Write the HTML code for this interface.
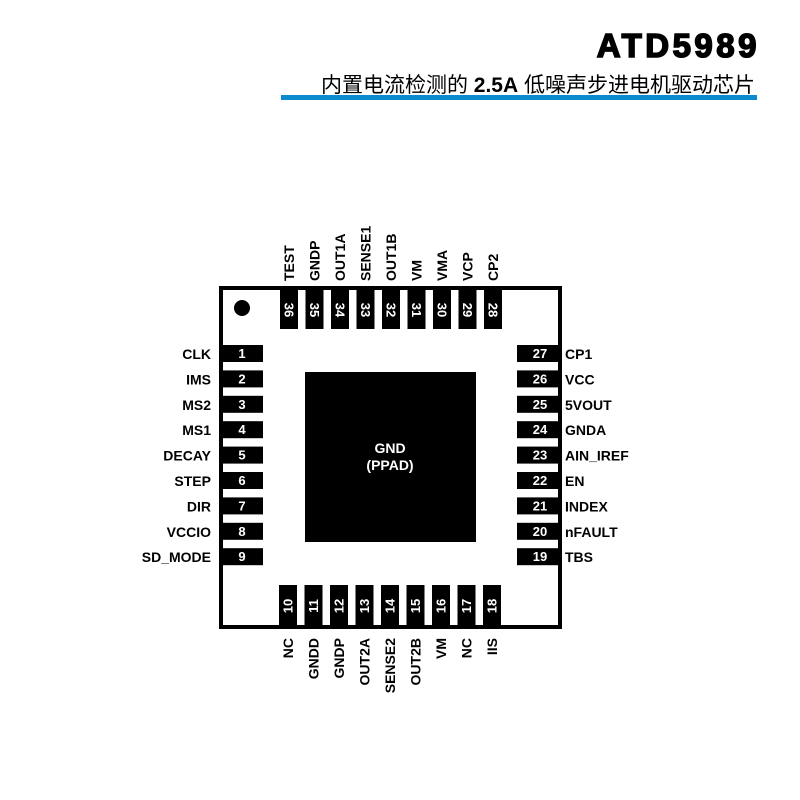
<!DOCTYPE html>
<html><head><meta charset="utf-8"><style>
html,body{margin:0;padding:0;background:#fff;}
svg{display:block;}
text{font-family:"Liberation Sans","Noto Sans CJK SC",sans-serif;font-weight:bold;}
</style></head><body>
<svg width="800" height="800" viewBox="0 0 800 800" xmlns="http://www.w3.org/2000/svg">
<text x="760" y="57" text-anchor="end" font-size="33" style="font-weight:900;letter-spacing:3.5px" stroke="#000" stroke-width="1.6">ATD5989</text>
<text x="755" y="92" text-anchor="end" font-size="21" style="font-weight:normal">内置电流检测的 <tspan style="font-weight:bold">2.5A</tspan> 低噪声步进电机驱动芯片</text>
<rect x="281" y="95" width="476" height="5" fill="#0b8acd"/>
<rect x="221" y="288" width="339" height="339" fill="none" stroke="#000" stroke-width="4"/>
<circle cx="242" cy="308" r="8" fill="#000"/>
<rect x="305" y="372" width="171" height="170" fill="#000"/>
<text x="390" y="453" text-anchor="middle" font-size="14" fill="#fff">GND</text>
<text x="390" y="470" text-anchor="middle" font-size="14" fill="#fff">(PPAD)</text>
<g font-size="13">
<g fill="#000">
<rect x="219" y="345" width="44" height="17"/>
<rect x="219" y="370.4" width="44" height="17"/>
<rect x="219" y="395.8" width="44" height="17"/>
<rect x="219" y="421.2" width="44" height="17"/>
<rect x="219" y="446.6" width="44" height="17"/>
<rect x="219" y="472" width="44" height="17"/>
<rect x="219" y="497.4" width="44" height="17"/>
<rect x="219" y="522.8" width="44" height="17"/>
<rect x="219" y="548.2" width="44" height="17"/>
<rect x="517" y="345" width="44" height="17"/>
<rect x="517" y="370.4" width="44" height="17"/>
<rect x="517" y="395.8" width="44" height="17"/>
<rect x="517" y="421.2" width="44" height="17"/>
<rect x="517" y="446.6" width="44" height="17"/>
<rect x="517" y="472" width="44" height="17"/>
<rect x="517" y="497.4" width="44" height="17"/>
<rect x="517" y="522.8" width="44" height="17"/>
<rect x="517" y="548.2" width="44" height="17"/>
</g>
<g fill="#fff" text-anchor="middle">
<text x="242" y="358">1</text><text x="242" y="383.4">2</text><text x="242" y="408.8">3</text><text x="242" y="434.2">4</text><text x="242" y="459.6">5</text><text x="242" y="485">6</text><text x="242" y="510.4">7</text><text x="242" y="535.8">8</text><text x="242" y="561.2">9</text>
<text x="540" y="358">27</text><text x="540" y="383.4">26</text><text x="540" y="408.8">25</text><text x="540" y="434.2">24</text><text x="540" y="459.6">23</text><text x="540" y="485">22</text><text x="540" y="510.4">21</text><text x="540" y="535.8">20</text><text x="540" y="561.2">19</text>
</g>
</g>
<g font-size="14" fill="#000" text-anchor="end">
<text x="211" y="359">CLK</text><text x="211" y="384.4">IMS</text><text x="211" y="409.8">MS2</text><text x="211" y="435.2">MS1</text><text x="211" y="460.6">DECAY</text><text x="211" y="486">STEP</text><text x="211" y="511.4">DIR</text><text x="211" y="536.8">VCCIO</text><text x="211" y="562.2">SD_MODE</text>
</g>
<g font-size="14" fill="#000">
<text x="565" y="359">CP1</text><text x="565" y="384.4">VCC</text><text x="565" y="409.8">5VOUT</text><text x="565" y="435.2">GNDA</text><text x="565" y="460.6">AIN_IREF</text><text x="565" y="486">EN</text><text x="565" y="511.4">INDEX</text><text x="565" y="536.8">nFAULT</text><text x="565" y="562.2">TBS</text>
</g>
<g font-size="13">
<rect x="280" y="286" width="18" height="43"/><rect x="305.5" y="286" width="18" height="43"/><rect x="331" y="286" width="18" height="43"/><rect x="356.5" y="286" width="18" height="43"/><rect x="382" y="286" width="18" height="43"/><rect x="407.5" y="286" width="18" height="43"/><rect x="433" y="286" width="18" height="43"/><rect x="458.5" y="286" width="18" height="43"/><rect x="484" y="286" width="18" height="43"/>
<g fill="#fff" text-anchor="middle">
<text transform="translate(284.5,310) rotate(90)">36</text>
<text transform="translate(310,310) rotate(90)">35</text>
<text transform="translate(335.5,310) rotate(90)">34</text>
<text transform="translate(361,310) rotate(90)">33</text>
<text transform="translate(386.5,310) rotate(90)">32</text>
<text transform="translate(412,310) rotate(90)">31</text>
<text transform="translate(437.5,310) rotate(90)">30</text>
<text transform="translate(463,310) rotate(90)">29</text>
<text transform="translate(488.5,310) rotate(90)">28</text>
</g>
<g fill="#000" font-size="14">
<text transform="translate(294,281) rotate(-90)">TEST</text>
<text transform="translate(319.5,281) rotate(-90)">GNDP</text>
<text transform="translate(345,281) rotate(-90)">OUT1A</text>
<text transform="translate(370.5,281) rotate(-90)">SENSE1</text>
<text transform="translate(396,281) rotate(-90)">OUT1B</text>
<text transform="translate(421.5,281) rotate(-90)">VM</text>
<text transform="translate(447,281) rotate(-90)">VMA</text>
<text transform="translate(472.5,281) rotate(-90)">VCP</text>
<text transform="translate(498,281) rotate(-90)">CP2</text>
</g>
</g>
<g font-size="13">
<rect x="279" y="585" width="18" height="43"/><rect x="304.5" y="585" width="18" height="43"/><rect x="330" y="585" width="18" height="43"/><rect x="355.5" y="585" width="18" height="43"/><rect x="381" y="585" width="18" height="43"/><rect x="406.5" y="585" width="18" height="43"/><rect x="432" y="585" width="18" height="43"/><rect x="457.5" y="585" width="18" height="43"/><rect x="483" y="585" width="18" height="43"/>
<g fill="#fff" text-anchor="middle">
<text transform="translate(292.5,606) rotate(-90)">10</text>
<text transform="translate(318,606) rotate(-90)">11</text>
<text transform="translate(343.5,606) rotate(-90)">12</text>
<text transform="translate(369,606) rotate(-90)">13</text>
<text transform="translate(394.5,606) rotate(-90)">14</text>
<text transform="translate(420,606) rotate(-90)">15</text>
<text transform="translate(445.5,606) rotate(-90)">16</text>
<text transform="translate(471,606) rotate(-90)">17</text>
<text transform="translate(496.5,606) rotate(-90)">18</text>
</g>
<g fill="#000" font-size="14" text-anchor="end">
<text transform="translate(293,638) rotate(-90)">NC</text>
<text transform="translate(318.5,638) rotate(-90)">GNDD</text>
<text transform="translate(344,638) rotate(-90)">GNDP</text>
<text transform="translate(369.5,638) rotate(-90)">OUT2A</text>
<text transform="translate(395,638) rotate(-90)">SENSE2</text>
<text transform="translate(420.5,638) rotate(-90)">OUT2B</text>
<text transform="translate(446,638) rotate(-90)">VM</text>
<text transform="translate(471.5,638) rotate(-90)">NC</text>
<text transform="translate(497,638) rotate(-90)">IIS</text>
</g>
</g>
</svg>
</body></html>
